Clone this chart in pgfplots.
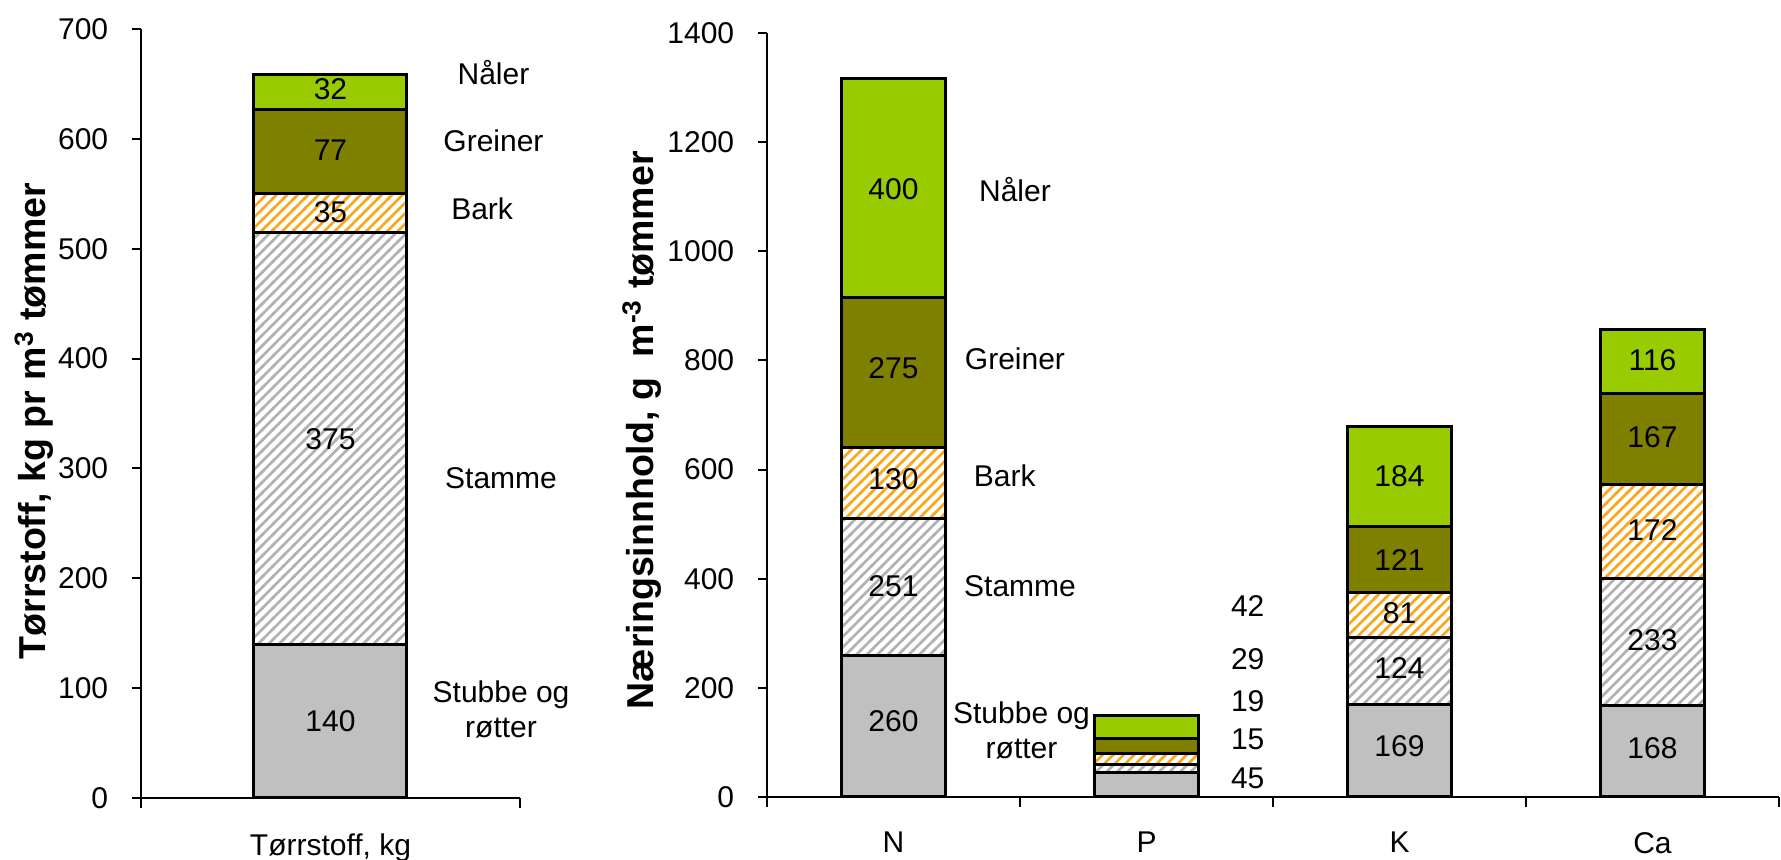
\documentclass[border=0pt]{standalone}
\usepackage{fontspec}
\setmainfont{Liberation Sans}
\usepackage{pgfplots}
\pgfplotsset{compat=1.18}
\usetikzlibrary{patterns}
\pgfdeclarepatternformonly{mystripes}{\pgfqpoint{-1pt}{-1pt}}{\pgfqpoint{5pt}{5pt}}{\pgfqpoint{4.2pt}{4.2pt}}{%
  \pgfsetlinewidth{1.0pt}%
  \pgfpathmoveto{\pgfqpoint{-0.5pt}{-0.5pt}}%
  \pgfpathlineto{\pgfqpoint{4.7pt}{4.7pt}}%
  \pgfusepath{stroke}}
\definecolor{naal}{RGB}{153,204,0}
\definecolor{grein}{RGB}{128,128,0}
\definecolor{stubb}{RGB}{192,192,192}
\definecolor{stam}{RGB}{178,178,178}
\definecolor{barkc}{RGB}{248,168,30}
\newcommand{\myfs}{\fontsize{12}{14}\selectfont}
\pgfplotsset{
  mybase/.style={
    scale only axis, clip=false,
    axis x line=bottom, axis y line=left,
    axis line style={-, line width=0.8pt},
    ybar stacked, ymin=0,
    tick align=outside,
    major tick length=3.6pt,
    minor tick length=4pt,
    major x tick style={draw=none},
    minor x tick style={draw=black, line width=0.8pt},
    ytick style={line width=0.8pt, black},
    tick label style={font=\myfs},
    /pgf/number format/assume math mode=true,
    /pgf/number format/1000 sep={},
    yticklabel style={xshift=-6pt},
    xticklabel style={yshift=-7pt},
    ylabel style={font=\fontsize{15}{17}\selectfont\bfseries, anchor=center},
  },
  overlay/.style={scale only axis, clip=false, hide axis, ymin=0},
  stubbe/.style={fill=stubb, draw=black, line width=1.2pt},
  stamme/.style={draw=black, line width=1.2pt, pattern=mystripes, pattern color=stam},
  bark/.style={draw=black, line width=1.2pt, pattern=mystripes, pattern color=barkc},
  greiner/.style={fill=grein, draw=black, line width=1.2pt},
  naaler/.style={fill=naal, draw=black, line width=1.2pt},
}
\begin{document}
\begin{tikzpicture}[lab/.style={font=\myfs}]
\useasboundingbox (0,0) rectangle (712.4pt,344pt);
% ---------------- left panel
\begin{axis}[mybase,
  at={(56.4pt,24.8pt)}, anchor=south west,
  width=151.6pt, height=307.6pt,
  xmin=-0.5, xmax=0.5, ymax=700,
  bar width=61.2pt,
  xtick={0}, xticklabels={Tørrstoff{,} kg},
  minor xtick={-0.5,0.5},
  ytick={0,100,...,700},
  ylabel={Tørrstoff, kg pr m\textsuperscript{3} tømmer},
  ylabel style={at={(axis description cs:-0.282,0.49)}},
]
\addplot[stubbe] coordinates {(0,140)};
\addplot[stamme] coordinates {(0,375)};
\addplot[bark] coordinates {(0,35)};
\addplot[greiner] coordinates {(0,77)};
\addplot[naaler] coordinates {(0,32)};
\end{axis}
\begin{axis}[overlay,
  at={(56.4pt,24.8pt)}, anchor=south west,
  width=151.6pt, height=307.6pt,
  xmin=-0.5, xmax=0.5, ymax=700]
\node[lab] at (axis cs:0,70) {140};
\node[lab] at (axis cs:0,327) {375};
\node[lab] at (axis cs:0,533) {35};
\node[lab] at (axis cs:0,590) {77};
\node[lab] at (axis cs:0,645) {32};
\node[lab] at (axis cs:0.43,660) {Nåler};
\node[lab] at (axis cs:0.43,598) {Greiner};
\node[lab] at (axis cs:0.40,536) {Bark};
\node[lab] at (axis cs:0.45,291) {Stamme};
\node[lab, align=center] at (axis cs:0.45,81) {Stubbe og\\røtter};
\end{axis}
% ---------------- right panel
\begin{axis}[mybase,
  at={(306.8pt,25.2pt)}, anchor=south west,
  width=404.8pt, height=305.6pt,
  xmin=-0.5, xmax=3.5, ymax=1400,
  bar width=41.6pt,
  xtick={0,1,2,3}, xticklabels={N,P,K,Ca},
  minor xtick={-0.5,0.5,1.5,2.5,3.5},
  ytick={0,200,...,1400},
  ylabel={Næringsinnhold, g\ \ m\textsuperscript{-3} tømmer},
  ylabel style={at={(axis description cs:-0.1235,0.48)}},
]
\addplot[stubbe] coordinates {(0,260) (1,45) (2,169) (3,168)};
\addplot[stamme] coordinates {(0,251) (1,15) (2,124) (3,233)};
\addplot[bark] coordinates {(0,130) (1,19) (2,81) (3,172)};
\addplot[greiner] coordinates {(0,275) (1,29) (2,121) (3,167)};
\addplot[naaler] coordinates {(0,400) (1,42) (2,184) (3,116)};
\end{axis}
\begin{axis}[overlay,
  at={(306.8pt,25.2pt)}, anchor=south west,
  width=404.8pt, height=305.6pt,
  xmin=-0.5, xmax=3.5, ymax=1400]
\node[lab] at (axis cs:0,139) {260};
\node[lab] at (axis cs:0,387) {251};
\node[lab] at (axis cs:0,582) {130};
\node[lab] at (axis cs:0,785) {275};
\node[lab] at (axis cs:0,1113) {400};
\node[lab] at (axis cs:2,94) {169};
\node[lab] at (axis cs:2,236) {124};
\node[lab] at (axis cs:2,336) {81};
\node[lab] at (axis cs:2,434) {121};
\node[lab] at (axis cs:2,587) {184};
\node[lab] at (axis cs:3,90) {168};
\node[lab] at (axis cs:3,288) {233};
\node[lab] at (axis cs:3,490) {172};
\node[lab] at (axis cs:3,660) {167};
\node[lab] at (axis cs:3,800) {116};
\node[lab] at (axis cs:1.40,35) {45};
\node[lab] at (axis cs:1.40,106) {15};
\node[lab] at (axis cs:1.40,175) {19};
\node[lab] at (axis cs:1.40,252) {29};
\node[lab] at (axis cs:1.40,350) {42};
\node[lab] at (axis cs:0.48,1113) {Nåler};
\node[lab] at (axis cs:0.48,803) {Greiner};
\node[lab] at (axis cs:0.44,589) {Bark};
\node[lab] at (axis cs:0.50,387) {Stamme};
\node[lab, align=center] at (axis cs:0.506,122) {Stubbe og\\røtter};
\end{axis}
\end{tikzpicture}
\end{document}
